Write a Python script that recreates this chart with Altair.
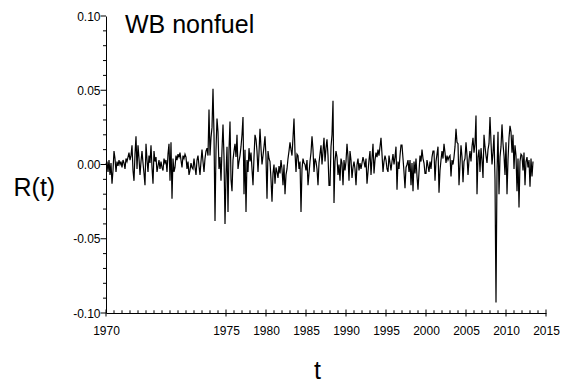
import altair as alt
import pandas as pd

# Monthly-ish returns R(t), in units of 0.001 (8 samples per year)
r_1960s = [0, 2, -5, 3, -7, 1, -13, -4,
           9, 4, -5, 2, -1, 3, 0, 2,
           -2, 3, 1, -3, 4, 2, 5, 8,
           3, 6, 13, -4, -11, 7, 19, -3,
           13, 4, -7, 2, 9, 1, -6, -14,
           14, 3, -5, 6, 1, 13, -2, -13,
           9, 2, 5, -5, -1, 3, -3, 2,
           -2, -4, 4, 1, 3, -5, 7, 14,
           -11, 15, -23, 4, -5, -2, 6, 3,
           7, 5, 8, 3, -2, 6, 4, 7]
r_1970s = [5, -3, 2, -7, -4, 1, -2, -3,
           4, -2, -7, 3, 6, -1, -7, 2,
           10, 2, -5, 4, 9, 11, 6, 37,
           6, 18, 25, 51, 20, -38, 10, 31,
           22, -3, 5, -11, 10, 27, 5, -40,
           -7, 12, -32, 10, 29, -10, -18, 3,
           9, 14, 5, 20, -3, 2, 6, 12,
           20, 32, -20, 10, -32, 3, -5, 11,
           2, 8, -3, -14, 5, 20, 17, 9,
           -5, 8, 24, 11, 0, 6, 12, 19]
r_1980s = [5, -23, 9, 4, 2, -10, -25, -6,
           0, -13, -2, -5, -9, -1, -6, 3,
           -3, -14, 0, -20, -7, -3, 4, 9,
           15, 10, 6, 18, 31, 8, -5, 7,
           6, -3, 2, -32, -3, 4, 1, 0,
           -4, 3, -14, -6, 2, 8, 19, 10,
           -5, 4, 2, -3, -14, 1, 7, 13,
           0, 9, 18, 2, 11, 17, 6, -14,
           -14, 12, 20, 43, -26, 2, 9, 5,
           -7, 0, -11, 4, 1, -14, 3, -4]
r_1990s = [2, 14, 5, -11, 9, 3, -9, -2,
           2, -3, -14, 0, 4, -4, 1, -3,
           1, 5, 2, -2, 4, -13, -5, 3,
           9, -7, 4, 14, -6, 3, 8, 5,
           10, 6, 12, 18, 7, -5, 2, 6,
           3, -3, -5, 6, 1, -4, 2, 7,
           0, 5, 12, -17, 2, -3, 6, 13,
           13, 4, -5, -16, -2, 0, 3, -5,
           3, -14, 1, -18, 2, -6, 4, -8,
           -17, -5, 6, 2, 10, 4, 1, -6]
r_2000s = [-6, 3, -1, -5, 2, -3, 5, 9,
           9, -11, 2, 7, 12, -19, -4, 3,
           9, 4, 14, 8, 1, 6, 3, 5,
           6, -8, 3, 0, 5, 12, 24, 15,
           14, -14, 0, 13, 5, -12, 2, 4,
           15, 6, -7, 3, 9, 2, 12, 18,
           8, 14, 33, -20, 5, 10, -5, 11,
           3, -9, 20, 12, 6, 1, 10, 14,
           32, 15, 0, 8, 20, -10, -93, -5,
           22, -20, 5, 12, 27, 14, 6, -7]
r_2010s = [15, -20, 3, 18, 26, 22, 8, 20,
           -3, 13, 6, -18, 4, -29, 2, 7,
           6, -4, 8, -14, 2, 5, -2, 3,
           -15, 4, -8, 2]

start_year = 1960
samples_per_year = 8

# axis ticks / labels
x_major = [1960, 1975, 1980, 1985, 1990, 1995, 2000, 2005, 2010, 2015]
x_major_labels = ["1970", "1975", "1980", "1985", "1990", "1995", "2000", "2005", "2010", "2015"]
x_minor = [y for y in range(1960, 2016) if y not in x_major]
y_major = [-0.10, -0.05, 0.0, 0.05, 0.10]
y_major_labels = ["-0.10", "-0.05", "0.00", "0.05", "0.10"]
y_minor = [-0.09, -0.08, -0.07, -0.06, -0.04, -0.03, -0.02, -0.01,
           0.01, 0.02, 0.03, 0.04, 0.06, 0.07, 0.08, 0.09]

title_text = "WB nonfuel"
y_title = "R(t)"
x_title = "t"

values = r_1960s + r_1970s + r_1980s + r_1990s + r_2000s + r_2010s
df = pd.DataFrame({
    "t": [start_year + i / samples_per_year for i in range(len(values))],
    "r": [v / 1000 for v in values],
})

FONT = "Liberation Sans"
x_scale = alt.Scale(domain=[1960, 2015], nice=False, zero=False)
y_scale = alt.Scale(domain=[-0.10, 0.10], nice=False, zero=False)


def lookup_expr(positions, labels):
    expr = "''"
    for pos, lab in reversed(list(zip(positions, labels))):
        expr = f"abs(datum.value - ({pos})) < 1e-6 ? '{lab}' : ({expr})"
    return expr


x_axis = alt.Axis(
    values=x_major, labelExpr=lookup_expr(x_major, x_major_labels),
    ticks=False, tickSize=0,
    labelPadding=12, labelFontSize=12, labelFont=FONT, labelColor="black",
    labelOverlap=False, labelFlush=False, grid=False,
    domainColor="black", domainWidth=1,
    title=x_title, titleFont=FONT, titleFontSize=25, titleFontWeight="normal",
    titleColor="black", titleX=211, titleY=65, titleAlign="center",
    titleBaseline="alphabetic",
)

y_axis = alt.Axis(
    values=y_major, labelExpr=lookup_expr(y_major, y_major_labels),
    ticks=False, tickSize=5,
    labelPadding=6, labelFontSize=12, labelFont=FONT, labelColor="black",
    labelOverlap=False, labelFlush=False, grid=False,
    domainColor="black", domainWidth=1,
    title=y_title, titleFont=FONT, titleFontSize=25, titleFontWeight="normal",
    titleColor="black", titleAngle=0, titleX=-93, titleY=179, titleAlign="left",
    titleBaseline="alphabetic",
)

line = alt.Chart(df).mark_line(color="black", strokeWidth=1.2).encode(
    x=alt.X("t:Q", scale=x_scale, axis=x_axis),
    y=alt.Y("r:Q", scale=y_scale, axis=y_axis),
)

RULE = dict(color="black", strokeWidth=1, opacity=1)

# inward x ticks (major ones cross the axis)
x_major_ticks = alt.Chart(pd.DataFrame({"t": x_major})).mark_rule(**RULE).encode(
    x=alt.X("t:Q", scale=x_scale),
    y=alt.value(300.5),
    y2=alt.value(293.5),
)
x_minor_ticks = alt.Chart(pd.DataFrame({"t": x_minor})).mark_rule(**RULE).encode(
    x=alt.X("t:Q", scale=x_scale),
    y=alt.value(297),
    y2=alt.value(294.3),
)
# outward y ticks
y_major_ticks = alt.Chart(pd.DataFrame({"r": y_major})).mark_rule(**RULE).encode(
    y=alt.Y("r:Q", scale=y_scale),
    x=alt.value(-5.5),
    x2=alt.value(0),
)
y_minor_ticks = alt.Chart(pd.DataFrame({"r": y_minor})).mark_rule(**RULE).encode(
    y=alt.Y("r:Q", scale=y_scale),
    x=alt.value(-3),
    x2=alt.value(0),
)

title = alt.Chart(pd.DataFrame({"label": [title_text]})).mark_text(
    align="left", baseline="alphabetic", fontSize=25, font=FONT, color="black",
    x=19, y=17,
).encode(text="label:N")

chart = alt.layer(line, x_minor_ticks, x_major_ticks, y_minor_ticks, y_major_ticks, title).properties(
    width=440, height=297,
    autosize=alt.AutoSizeParams(type="none"),
    padding={"left": 106, "top": 16, "right": 22, "bottom": 74},
    background="white",
).configure_view(stroke=None)

chart.save("out.html", embed_options={"renderer": "svg", "actions": False})
